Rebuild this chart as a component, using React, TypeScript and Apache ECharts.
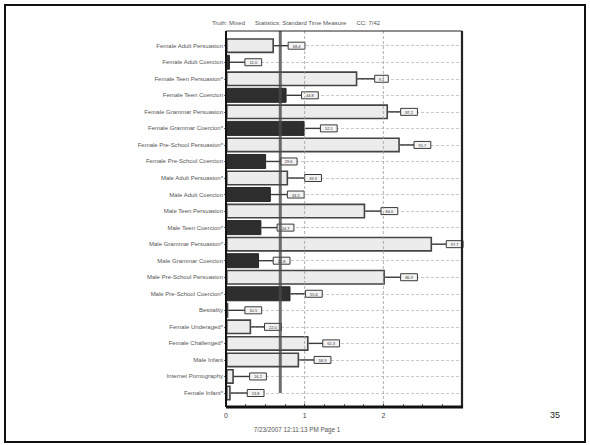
import React, { useEffect, useRef } from "react";
import * as echarts from "echarts";

const categories = [
  "Female Adult Persuasion",
  "Female Adult Coercion",
  "Female Teen Persuasion*",
  "Female Teen Coercion",
  "Female Grammar Persuasion",
  "Female Grammar Coercion*",
  "Female Pre-School Persuasion*",
  "Female Pre-School Coercion",
  "Male Adult Persuasion*",
  "Male Adult Coercion",
  "Male Teen Persuasion",
  "Male Teen Coercion*",
  "Male Grammar Persuasion*",
  "Male Grammar Coercion",
  "Male Pre-School Persuasion",
  "Male Pre-School Coercion*",
  "Bestiality",
  "Female Underaged*",
  "Female Challenged*",
  "Male Infant",
  "Internet Pornography",
  "Female Infant*",
];
const barValues = [0.61, 0.05, 1.67, 0.77, 2.06, 1.0, 2.21, 0.51, 0.79, 0.57, 1.77, 0.45, 2.62, 0.42, 2.02, 0.82, 0.03, 0.32, 1.05, 0.93, 0.1, 0.06];
const errorEnds = [0.79, 0.24, 1.89, 0.96, 2.22, 1.2, 2.39, 0.69, 1.0, 0.78, 1.97, 0.65, 2.8, 0.6, 2.22, 1.01, 0.24, 0.49, 1.23, 1.12, 0.3, 0.27];
const isCoercion = [false, true, false, true, false, true, false, true, false, true, false, true, false, true, false, true, false, false, false, false, false, false];
const boxLabels = ["68.4", "12.0", "9.1", "44.8", "87.2", "52.1", "91.7", "29.6", "49.3", "33.5", "84.0", "24.7", "97.7", "22.8", "86.9", "55.6", "10.5", "22.0", "61.3", "58.9", "16.2", "13.8"];
const cutoff = 0.69;
const xTicks = [0, 1, 2];
const titleText = "Truth: Mixed      Statistics: Standard Time Measure      CC: 7/42";
const footerText = "7/23/2007 12:11:13 PM Page 1";
const pageNumber = "35";

const FONT = "'Liberation Sans', Arial, sans-serif";

export default function App() {
  const ref = useRef<HTMLDivElement>(null);
  useEffect(() => {
    if (!ref.current) return;
    const chart = echarts.init(ref.current, null, { renderer: "svg" });
    const barData = barValues.map((v, i) => ({
      value: v,
      itemStyle: isCoercion[i]
        ? { color: "#2e2e2e", borderColor: "#262626", borderWidth: 1 }
        : { color: "#ececec", borderColor: "#444", borderWidth: 1.6 },
    }));
    const errData = barValues.map((v, i) => [v, errorEnds[i], i]);
    chart.setOption({
      animation: false,
      textStyle: { fontFamily: FONT },
      grid: { left: 226, right: 128, top: 45.7, bottom: 52 },
      xAxis: {
        type: "value",
        min: 0,
        max: 3,
        interval: 1,
        offset: 14,
        axisLine: { show: false },
        axisTick: { show: true, inside: true, length: 3, lineStyle: { color: "#444" } },
        minorTick: { show: true, splitNumber: 4, length: 3, lineStyle: { color: "#666" } },
        splitLine: { show: false },
        axisLabel: { fontSize: 7, color: "#444", margin: 5, showMaxLabel: false, fontFamily: FONT },
      },
      yAxis: {
        type: "category",
        data: categories,
        inverse: true,
        boundaryGap: false,
        axisLine: { show: false },
        axisTick: { show: true, length: 2, lineStyle: { color: "#666" } },
        axisLabel: { fontSize: 6, color: "#555", margin: 3, fontFamily: FONT },
        splitLine: { show: true, lineStyle: { type: [3, 2], color: "#bdbdbd", width: 0.8 } },
      },
      series: [
        {
          type: "bar",
          data: barData,
          barWidth: 15,
          z: 3,
        },
        {
          type: "custom",
          data: errData,
          encode: { x: [0, 1], y: 2 },
          z: 4,
          renderItem: (params: any, api: any) => {
            const y = api.value(2);
            const p0 = api.coord([api.value(0), y]);
            const p1 = api.coord([api.value(1), y]);
            const label = boxLabels[params.dataIndex];
            const w = label.length * 3.2 + 4;
            const h = 7;
            return {
              type: "group",
              children: [
                { type: "line", shape: { x1: p0[0], y1: p0[1], x2: p1[0], y2: p1[1] }, style: { stroke: "#3a3a3a", lineWidth: 1.4 } },
                { type: "rect", shape: { x: p1[0], y: p1[1] - h / 2, width: w, height: h }, style: { fill: "#f4f4f4", stroke: "#3a3a3a", lineWidth: 1 } },
                { type: "text", x: p1[0] + w / 2, y: p1[1] + 0.5, style: { text: label, fontSize: 4, fill: "#333", align: "center", verticalAlign: "middle", fontFamily: FONT } },
              ],
            };
          },
        },
        {
          type: "custom",
          data: [[cutoff, 0]],
          encode: { x: 0, y: 1 },
          z: 5,
          silent: true,
          renderItem: (params: any, api: any) => {
            const cs = params.coordSys;
            const top = cs.y - 14.7;
            const bottom = cs.y + cs.height + 14;
            const left = cs.x;
            const right = cs.x + cs.width;
            const cx = api.coord([api.value(0), 0])[0];
            const lastY = api.coord([0, categories.length - 1])[1];
            const children: any[] = [];
            xTicks.slice(1).forEach((t) => {
              const gx = api.coord([t, 0])[0];
              children.push({ type: "line", z2: 0, shape: { x1: gx, y1: top, x2: gx, y2: bottom }, style: { stroke: "#9a9a9a", lineWidth: 0.8, lineDash: [3, 2] } });
            });
            children.push({ type: "line", shape: { x1: cx, y1: top, x2: cx, y2: lastY }, style: { stroke: "#4a4a4a", lineWidth: 3, opacity: 0.8 } });
            children.push({ type: "line", shape: { x1: left, y1: top, x2: right, y2: top }, style: { stroke: "#222", lineWidth: 1.2 } });
            children.push({ type: "line", shape: { x1: left, y1: top, x2: left, y2: bottom }, style: { stroke: "#111", lineWidth: 2 } });
            children.push({ type: "line", shape: { x1: right, y1: top, x2: right, y2: bottom + 1 }, style: { stroke: "#222", lineWidth: 2.2 } });
            children.push({ type: "line", shape: { x1: left, y1: bottom, x2: right + 1, y2: bottom }, style: { stroke: "#111", lineWidth: 3 } });
            return { type: "group", children };
          },
        },
      ],
      graphic: [
        { type: "rect", shape: { x: 5, y: 5, width: 580, height: 437 }, style: { fill: "none", stroke: "#111", lineWidth: 2 } },
        { type: "text", x: 296, y: 23, style: { text: titleText, fontSize: 6, fill: "#555", align: "center", verticalAlign: "middle", fontFamily: FONT } },
        { type: "text", x: 297, y: 429, style: { text: footerText, fontSize: 6.3, fill: "#555", align: "center", verticalAlign: "middle", fontFamily: FONT } },
        { type: "text", x: 555, y: 415, style: { text: pageNumber, fontSize: 9, fill: "#222", align: "center", verticalAlign: "middle", fontFamily: FONT } },
      ],
    });
    return () => chart.dispose();
  }, []);
  return <div ref={ref} style={{ position: "fixed", left: 0, top: 0, width: 590, height: 445, background: "#fff" }} />;
}
